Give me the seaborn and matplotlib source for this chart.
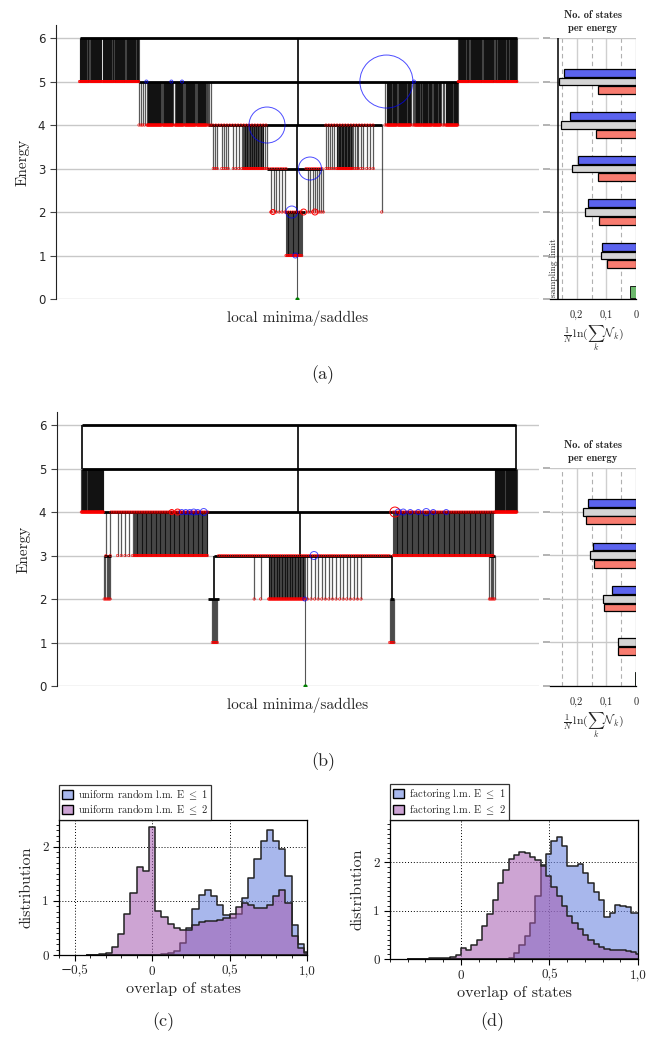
import numpy as np
import pandas as pd
import matplotlib
matplotlib.use("Agg")
import matplotlib.pyplot as plt
import seaborn as sns
from matplotlib.patches import Patch
from matplotlib.ticker import MultipleLocator, FixedLocator

# ======================= DATA =======================
energy_levels = [0, 1, 2, 3, 4, 5, 6]

# ---- panel (a): disconnectivity graph (x = leaf position index) ----
a_hx0 = [79.5, 138.6, 208.0, 266.7, 285.0]
a_hx1 = [516.8, 458.2, 382.0, 321.7, 305.0]
a_he = [6, 5, 4, 3, 2]
a_vx = [298.3, 297.0]
a_vtop = [6, 4]
a_vbot = [4, 2]
a_tx, a_ttop, a_tbot = [296.7], [1], [0]
a_bx0 = [79.5, 90, 102.5, 114.6, 126, 458.2, 470, 483.2, 495.4, 506.4,
         139, 142.5, 147, 163, 175, 185, 197, 207.5,
         385, 387.3, 398, 412.7, 415, 422.7, 433, 442.7, 445.7,
         213.3, 221.7, 233.3, 243.3, 265,
         326, 330, 337.3, 353, 358, 366.7,
         381.7, 270.7, 308.3, 286,
         213, 326, 268, 306, 286]
a_bx1 = [88.6, 101.4, 113.6, 125, 138.6, 468.6, 482, 494, 505.4, 516.8,
         141, 144.5, 161.5, 173, 183.5, 195.5, 206.5, 210.7,
         386.5, 396.7, 410.7, 414, 421.7, 431.7, 440.7, 444, 457.7,
         217.3, 228.3, 241.7, 263.3, 266.7,
         328, 336.7, 351.7, 356.7, 363, 373.3,
         381.7, 285, 323.3, 301.7,
         266, 373, 286, 322, 302]
a_btop = [6] * 10 + [5] * 8 + [5] * 9 + [4] * 5 + [4] * 6 + [4, 3, 3, 2] + [4, 4, 3, 3, 2]
a_bbot = [5] * 10 + [4] * 8 + [4] * 9 + [3] * 5 + [3] * 6 + [2, 2, 2, 1] + [4, 4, 3, 3, 2]
a_bn = [18, 23, 22, 21, 25, 21, 24, 22, 20, 21,
        2, 2, 29, 20, 17, 21, 19, 3,
        2, 19, 25, 2, 13, 18, 15, 2, 24,
        3, 4, 4, 30, 2,
        2, 4, 25, 3, 3, 3,
        1, 6, 8, 20,
        20, 18, 8, 8, 8]
a_cx = [386.4, 267.0, 310.0, 291.8, 295.4, 146.4, 171.4, 182.0, 414.0]
a_ce = [5, 4, 3, 2, 1, 5, 5, 5, 5]
a_cd = [53, 36, 23, 12, 5, 3, 3, 3, 3]
a_rx = [273.0, 303.6, 315.0]
a_re = [2, 2, 2]
a_rd = [5, 6, 6]
a_gx = 296.7

# ---- panel (b) ----
b_hx0 = [81.4, 81.4, 102.5, 213.6, 103.0, 489.0, 207.0, 389.3]
b_hx1 = [516.0, 516.0, 494.6, 391.8, 110.0, 495.0, 218.6, 393.6]
b_he = [6, 5, 4, 3, 3, 3, 2, 2]
b_vx = [81.4, 516.0, 298.0, 300.0, 213.6, 391.8]
b_vtop = [6, 6, 6, 4, 3, 3]
b_vbot = [5, 5, 4, 3, 2, 2]
b_tx, b_ttop, b_tbot = [304.3], [3], [0]
b_bx0 = [80.4, 494.6, 105, 109.3, 116.7, 133.3, 392.9, 103.3, 211.7, 253.6, 268, 307, 389.3, 489.3,
         110, 393, 218]
b_bx1 = [102.5, 516.8, 105, 109.3, 131.7, 206.7, 492.9, 109.3, 216.7, 260, 303.6, 360.7, 393.6, 494.6,
         207, 493, 389]
b_btop = [5, 5, 4, 4, 4, 4, 4, 3, 2, 3, 3, 3, 2, 3, 4, 4, 3]
b_bbot = [4, 4, 3, 3, 3, 3, 3, 2, 1, 2, 2, 2, 1, 2, 4, 4, 3]
b_bn = [44, 44, 1, 1, 5, 90, 120, 6, 6, 2, 50, 16, 5, 5, 60, 60, 80]
b_cx = [181, 185, 189, 193, 197, 203, 398, 403, 410, 418, 426, 433, 446, 313.6, 304.3]
b_ce = [4] * 13 + [3, 2]
b_cd = [5, 5, 5, 6, 5, 7, 6, 6, 5, 5, 7, 5, 5, 8, 4]
b_rx = [394.6, 176.8, 171.0]
b_re = [4, 4, 4]
b_rd = [10, 6, 5]
b_gx = 304.3

# ---- number of states per energy ----
a_bar_E = [1, 2, 3, 4, 5]
a_blue = [0.115, 0.161, 0.196, 0.221, 0.243]
a_gray = [0.119, 0.172, 0.216, 0.253, 0.260]
a_red = [0.099, 0.125, 0.128, 0.136, 0.128]
a_green = 0.020
a_limit = 0.262

b_bar_E = [1, 2, 3, 4]
b_blue = [0.0, 0.081, 0.145, 0.162]
b_gray = [0.060, 0.111, 0.156, 0.179]
b_red = [0.060, 0.108, 0.143, 0.167]
b_green = 0.003

state_ticks = [0.2, 0.1, 0.0]
state_ticklabels = ["0,2", "0,1", "0"]

# ---- overlap histograms ----
c_edges = [round(-0.42 + 0.04 * i, 4) for i in range(37)]
c_centers = [round(e + 0.02, 4) for e in c_edges[:-1]]
c_e2 = [0.003, 0.006, 0.015, 0.04, 0.14, 0.38, 0.75, 1.15, 1.62, 1.55,
        2.36, 0.82, 0.70, 0.58, 0.50, 0.46, 0.47, 0.55, 0.60, 0.62,
        0.63, 0.64, 0.68, 0.75, 0.88, 0.95, 0.92, 0.87, 0.86, 0.92,
        1.08, 1.20, 0.95, 0.35, 0.12, 0.03]
c_e1 = [0, 0, 0, 0, 0, 0, 0, 0, 0, 0,
        0, 0.0, 0.01, 0.03, 0.08, 0.22, 0.50, 0.85, 1.10, 1.19,
        1.08, 0.92, 0.74, 0.68, 0.75, 1.05, 1.42, 1.77, 2.10, 2.31,
        2.10, 1.95, 1.45, 0.55, 0.20, 0.05]

d_edges = [round(-0.30 + 0.03 * i, 4) for i in range(45)]
d_centers = [round(e + 0.015, 4) for e in d_edges[:-1]]
d_e2 = [0.003, 0.005, 0.008, 0.01, 0.012, 0.015, 0.02, 0.03, 0.05, 0.08,
        0.22, 0.19, 0.30, 0.40, 0.68, 0.93, 1.23, 1.57, 1.85, 2.07,
        2.16, 2.21, 2.19, 2.12, 2.05, 1.92, 1.73, 1.50, 1.30, 1.10,
        0.90, 0.75, 0.62, 0.50, 0.40, 0.32, 0.25, 0.21, 0.19, 0.18,
        0.18, 0.17, 0.15, 0.10]
d_e1 = [0] * 18 + [0.01, 0.03, 0.12, 0.30, 0.48, 0.75, 1.30, 1.95, 2.17,
                   2.45, 2.53, 2.35, 1.93, 1.93, 1.96, 1.78, 1.58, 1.38,
                   1.22, 0.88, 0.95, 1.12, 1.10, 1.08, 0.95, 0.95]

c_xticks = [-0.5, 0.0, 0.5, 1.0]
c_xticklabels = ["\u22120,5", "0", "0,5", "1,0"]
d_xticks = [0.0, 0.5, 1.0]
d_xticklabels = ["0", "0,5", "1,0"]
hist_yticks = [0, 1, 2]

# ======================= STYLE =======================
sns.set_theme(style="white")
plt.rcParams["font.family"] = ["cmr10", "DejaVu Serif"]
plt.rcParams["mathtext.fontset"] = "cm"
plt.rcParams["axes.unicode_minus"] = False
plt.rcParams["axes.formatter.use_mathtext"] = True

W, H = 647, 1046
fig = plt.figure(figsize=(W / 100, H / 100), dpi=100)


def rect(l, t, r, b):
    return [l / W, 1 - b / H, (r - l) / W, (b - t) / H]


def draw_dg(ax, hx0, hx1, he, vx, vtop, vbot, tx, ttop, tbot,
            bx0, bx1, btop, bbot, bn, cx, ce, cd, rx, re_, rd, gx):
    ax.set_xlim(56, 539)
    ax.set_ylim(0, 6.3)
    for x0, x1, t, b, n in zip(bx0, bx1, btop, bbot, bn):
        xs = np.linspace(x0, x1, n) if n > 1 else np.array([x0])
        dense = n > 1 and (x1 - x0) / (n - 1) < 1.0
        if t != b:
            ax.vlines(xs, b, t, colors="black", lw=0.8 if dense else 0.9,
                      alpha=0.7 if dense else 0.65, zorder=2)
        ax.scatter(xs, np.full(len(xs), b), s=3, facecolors="none",
                   edgecolors="red", linewidths=0.45, alpha=0.9, zorder=4)
    ax.vlines(vx, vbot, vtop, colors="black", lw=1.2, zorder=3)
    ax.vlines(tx, tbot, ttop, colors="#555555", lw=0.8, zorder=3)
    ax.hlines(he, hx0, hx1, colors="black", lw=2, zorder=3)
    ax.scatter(rx, re_, s=(np.array(rd) * 0.72) ** 2, facecolors="none",
               edgecolors="red", linewidths=0.7, zorder=5)
    ax.scatter(cx, ce, s=(np.array(cd) * 0.72) ** 2, facecolors="none",
               edgecolors="blue", linewidths=0.7, alpha=0.7, zorder=5)
    ax.scatter([gx], [0], s=4, color="green", zorder=5)
    for s in ["top", "right", "bottom"]:
        ax.spines[s].set_visible(False)
    ax.spines["left"].set_color("#222222")
    ax.spines["left"].set_linewidth(0.8)
    ax.set_yticks(energy_levels)
    ax.set_xticks([])
    ax.tick_params(axis="y", left=True, length=4, width=0.8, color="#444444",
                   labelsize=8.5, pad=3)
    for t in ax.get_yticklabels():
        t.set_fontfamily("DejaVu Sans")
    ax.yaxis.grid(True, color="#c8c8c8", lw=1)
    ax.set_axisbelow(True)
    ax.set_ylabel("Energy", fontsize=11, labelpad=6)
    ax.set_xlabel("local minima/saddles", fontsize=11, labelpad=8)


def draw_states(ax, E, blue, gray, red, green, ytop):
    ax.set_xlim(0.29, 0.0)
    ax.set_ylim(0, ytop)
    E = np.array(E, dtype=float)
    h = 0.18
    for vals, off, col in [(blue, 0.2, "#5b63ee"), (gray, 0.0, "#d4d4d4"), (red, -0.2, "#f87c70")]:
        vals = np.array(vals)
        m = vals > 0
        ax.barh(E[m] + off, vals[m], height=h, left=0, color=col,
                edgecolor="black", linewidth=0.9, zorder=3)
    ax.barh([0.17], [green], height=0.28, left=0, color="#6db96d",
            edgecolor="black", linewidth=0.6, zorder=3)
    ax.xaxis.set_major_locator(FixedLocator(state_ticks))
    ax.set_xticklabels(state_ticklabels)
    ax.xaxis.set_minor_locator(FixedLocator([0.05, 0.15, 0.25]))
    ax.grid(which="major", axis="x", color="#cfcfcf", lw=1, zorder=0)
    ax.grid(which="minor", axis="x", color="#b0b0b0", lw=0.8, ls=(0, (4, 3)), zorder=0)
    ax.set_yticks(range(int(ytop) + 1))
    ax.yaxis.grid(True, color="#c8c8c8", lw=1, zorder=0)
    ax.set_axisbelow(True)
    ax.tick_params(axis="y", left=True, length=5, color="#aaaaaa", labelleft=False)
    ax.tick_params(axis="x", which="major", bottom=False, labelsize=7.5, pad=2)
    ax.tick_params(axis="x", which="minor", bottom=False)
    for s in ["top", "right", "left"]:
        ax.spines[s].set_visible(False)
    ax.spines["bottom"].set_color("black")
    ax.spines["bottom"].set_linewidth(0.9)
    ax.set_title("No. of states\nper energy", fontsize=7.5, fontfamily=["cmb10", "DejaVu Serif"],
                 pad=5, linespacing=1.4)
    ax.set_xlabel(r"$\frac{1}{N}\,\ln(\sum_k \mathcal{N}_k)$", fontsize=8.5, labelpad=2)


def draw_hist(ax, centers, edges, e1, e2, labels, xlim, ylim, xticks, xticklabels):
    blue = "#6f87e0"
    purple = "#a45ab0"
    df1 = pd.DataFrame({"overlap": centers, "w": e1})
    df2 = pd.DataFrame({"overlap": centers, "w": e2})
    sns.histplot(data=df1, x="overlap", weights="w", bins=list(edges), element="step", fill=True,
                 stat="count", color=blue, alpha=0.6, edgecolor="#222222",
                 linewidth=1.1, ax=ax)
    sns.histplot(data=df2, x="overlap", weights="w", bins=list(edges), element="step", fill=True,
                 stat="count", color=purple, alpha=0.55, edgecolor="#222222",
                 linewidth=1.1, ax=ax)
    ax.set_xlim(*xlim)
    ax.set_ylim(*ylim)
    ax.set_xticks(xticks)
    ax.set_xticklabels(xticklabels)
    ax.set_yticks(hist_yticks)
    ax.set_yticklabels([str(v) for v in hist_yticks])
    ax.xaxis.set_minor_locator(MultipleLocator(0.1))
    ax.yaxis.set_minor_locator(MultipleLocator(0.1))
    ax.tick_params(which="major", direction="out", length=4, width=0.8,
                   bottom=True, left=True, labelsize=9.5, color="black")
    ax.tick_params(which="minor", direction="out", length=2, width=0.6,
                   bottom=True, left=True, color="black")
    ax.grid(which="major", color="black", ls=(0, (1, 2)), lw=0.7)
    ax.set_axisbelow(True)
    for s in ax.spines.values():
        s.set_color("black")
        s.set_linewidth(0.9)
    ax.set_xlabel("overlap of states", fontsize=11.5, labelpad=3)
    ax.set_ylabel("distribution", fontsize=11.5, labelpad=6)
    handles = [Patch(facecolor=(0.66, 0.72, 0.93), edgecolor="black", lw=1),
               Patch(facecolor=(0.80, 0.64, 0.83), edgecolor="black", lw=1)]
    leg = ax.legend(handles, labels, loc="lower left", bbox_to_anchor=(0, 1.0),
                    borderaxespad=0, fontsize=7.5, frameon=True, fancybox=False,
                    edgecolor="black", handlelength=1.0, handleheight=0.9,
                    handletextpad=0.5, borderpad=0.3, labelspacing=0.2)
    leg.get_frame().set_linewidth(0.9)


# ======================= FIGURE =======================
axA = fig.add_axes(rect(56, 25, 539, 299))
draw_dg(axA, a_hx0, a_hx1, a_he, a_vx, a_vtop, a_vbot, a_tx, a_ttop, a_tbot,
        a_bx0, a_bx1, a_btop, a_bbot, a_bn, a_cx, a_ce, a_cd, a_rx, a_re, a_rd, a_gx)
axAr = fig.add_axes(rect(550, 38, 636, 299))
draw_states(axAr, a_bar_E, a_blue, a_gray, a_red, a_green, 6)
axAr.axvline(a_limit, color="black", lw=1.1, zorder=4)
axAr.text(0.278, 0.05, "sampling limit", rotation=90, ha="center", va="bottom", fontsize=6.8)

axB = fig.add_axes(rect(57, 412, 539, 686))
draw_dg(axB, b_hx0, b_hx1, b_he, b_vx, b_vtop, b_vbot, b_tx, b_ttop, b_tbot,
        b_bx0, b_bx1, b_btop, b_bbot, b_bn, b_cx, b_ce, b_cd, b_rx, b_re, b_rd, b_gx)
axBr = fig.add_axes(rect(550, 468, 636, 686))
draw_states(axBr, b_bar_E, b_blue, b_gray, b_red, b_green, 5)

axC = fig.add_axes(rect(59, 820, 307, 955))
draw_hist(axC, c_centers, c_edges, c_e1, c_e2,
          [r"uniform random l.m. E $\leq$ 1", r"uniform random l.m. E $\leq$ 2"],
          (-0.6, 1.0), (0, 2.49), c_xticks, c_xticklabels)
axD = fig.add_axes(rect(390, 820, 638, 959))
draw_hist(axD, d_centers, d_edges, d_e1, d_e2,
          [r"factoring l.m. E $\leq$ 1", r"factoring l.m. E $\leq$ 2"],
          (-0.4, 1.0), (0, 2.88), d_xticks, d_xticklabels)

for lab, x, y in [("(a)", 323, 375), ("(b)", 323, 762), ("(c)", 163, 1022), ("(d)", 492, 1022)]:
    fig.text(x / W, 1 - y / H, lab, ha="center", va="center", fontsize=13)

fig.savefig("out.png", dpi=100)
